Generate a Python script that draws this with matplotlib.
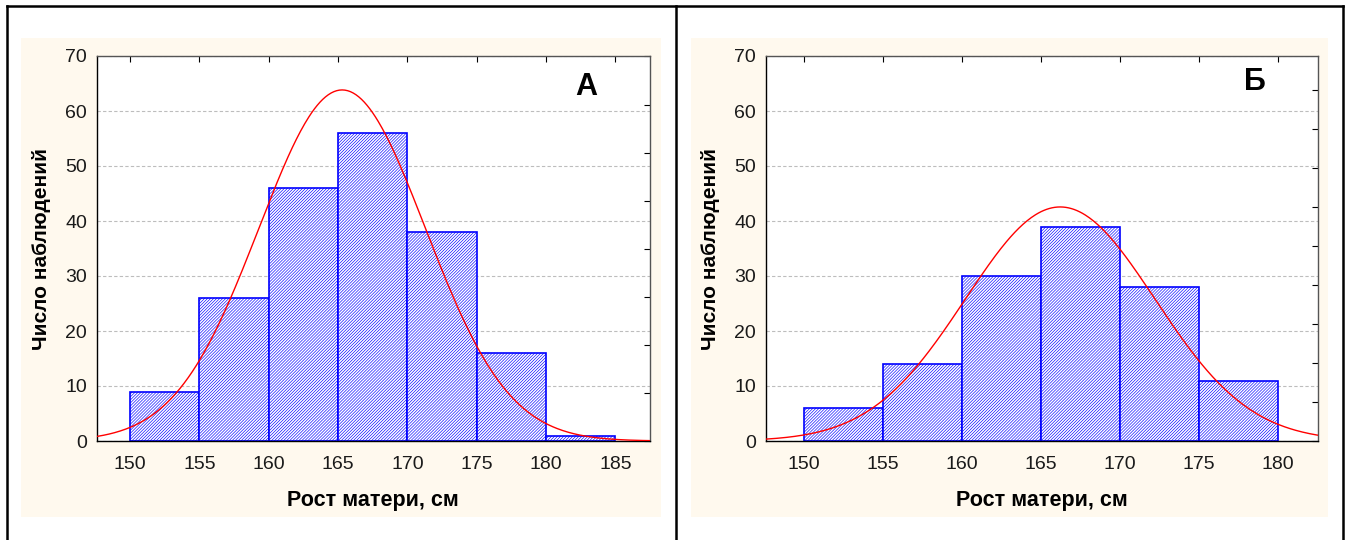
import numpy as np
import matplotlib.pyplot as plt
from matplotlib.patches import Rectangle
from matplotlib.lines import Line2D

plt.rcParams['font.family'] = ['Liberation Sans', 'DejaVu Sans']
plt.rcParams['hatch.linewidth'] = 0.45

# data
bin_edges_a = [150, 155, 160, 165, 170, 175, 180, 185]
counts_a = [9, 26, 46, 56, 38, 16, 1]
mean_a, sd_a = 165.3, 6.0

bin_edges_b = [150, 155, 160, 165, 170, 175, 180]
counts_b = [6, 14, 30, 39, 28, 11]
mean_b, sd_b = 166.2, 6.0

yticks = [0, 10, 20, 30, 40, 50, 60, 70]

fig = plt.figure(figsize=(13.52, 5.4), dpi=100)
W, H = 1352, 540

def px(x0, y0, x1, y1):
    return [x0 / W, 1 - y1 / H, (x1 - x0) / W, (y1 - y0) / H]

# beige panels
for x0, x1 in [(21, 661), (691, 1328)]:
    fig.patches.append(Rectangle((x0 / W, 1 - 517 / H), (x1 - x0) / W, (517 - 38) / H,
                                 transform=fig.transFigure, facecolor='#fff9ee',
                                 edgecolor='none', zorder=-10))

# outer frame lines
for xs, ys in [([6.5, 6.5], [5.5, 540]), ([6.5, 1343], [5.5, 5.5]),
               ([1343, 1343], [5.5, 540]), ([676, 676], [5.5, 540])]:
    fig.lines.append(Line2D([x / W for x in xs], [1 - y / H for y in ys],
                            transform=fig.transFigure, color='black', lw=1.8))


def panel(rect, edges, counts, mean, sd, xlim, letter, letter_pos, right_step):
    ax = fig.add_axes(rect, zorder=5)
    ax.set_facecolor('white')
    widths = np.diff(edges)
    ax.bar(edges[:-1], counts, width=widths, align='edge', facecolor='white',
           edgecolor='#0000ff', hatch='/' * 11, linewidth=1.2, zorder=2)
    x = np.linspace(xlim[0], xlim[1], 400)
    n = sum(counts)
    y = n * widths[0] / (sd * np.sqrt(2 * np.pi)) * np.exp(-0.5 * ((x - mean) / sd) ** 2)
    ax.plot(x, y, color='red', lw=1.0, zorder=3)
    ax.set_xlim(*xlim)
    ax.set_ylim(0, 70)
    ax.set_yticks(yticks)
    ax.set_xticks(edges)
    ax.yaxis.grid(True, color='#bdbdbd', linestyle=(0, (3, 2)), lw=0.8)
    ax.set_axisbelow(True)
    ax.tick_params(axis='both', labelsize=14, length=0, pad=7, labelcolor='#1a1a1a')
    ax.tick_params(axis='x', pad=11)
    # small inner ticks on top and right
    sec = ax.secondary_xaxis('top')
    sec.set_xticks(edges)
    sec.tick_params(direction='in', length=4, labeltop=False)
    sec.spines['top'].set_visible(False)
    sec2 = ax.secondary_yaxis('right')
    sec2.set_yticks(np.arange(0, 70, right_step))
    sec2.tick_params(direction='in', length=4, labelright=False)
    sec2.spines['right'].set_visible(False)
    for s in ax.spines.values():
        s.set_linewidth(1.0)
    ax.spines['top'].set_color('#555555')
    ax.spines['right'].set_color('#555555')
    ax.set_xlabel('Рост матери, см', fontsize=15.5, fontweight='bold', labelpad=12)
    ax.set_ylabel('Число наблюдений', fontsize=15, fontweight='bold', labelpad=10)
    ax.text(letter_pos[0], letter_pos[1], letter, transform=ax.transAxes,
            fontsize=22, fontweight='bold', ha='center', va='center')
    return ax


panel(px(96.7, 56, 650, 441), bin_edges_a, counts_a, mean_a, sd_a,
      (147.6, 187.5), 'А', ((586 - 96.7) / 553.3, 1 - (87 - 56) / 385), 8.74)
panel(px(765.7, 56, 1317.7, 441), bin_edges_b, counts_b, mean_b, sd_b,
      (147.56, 182.5), 'Б', ((1255 - 765.7) / 552, 1 - (82 - 56) / 385), 7.1)

fig.savefig('out.png', dpi=100)
